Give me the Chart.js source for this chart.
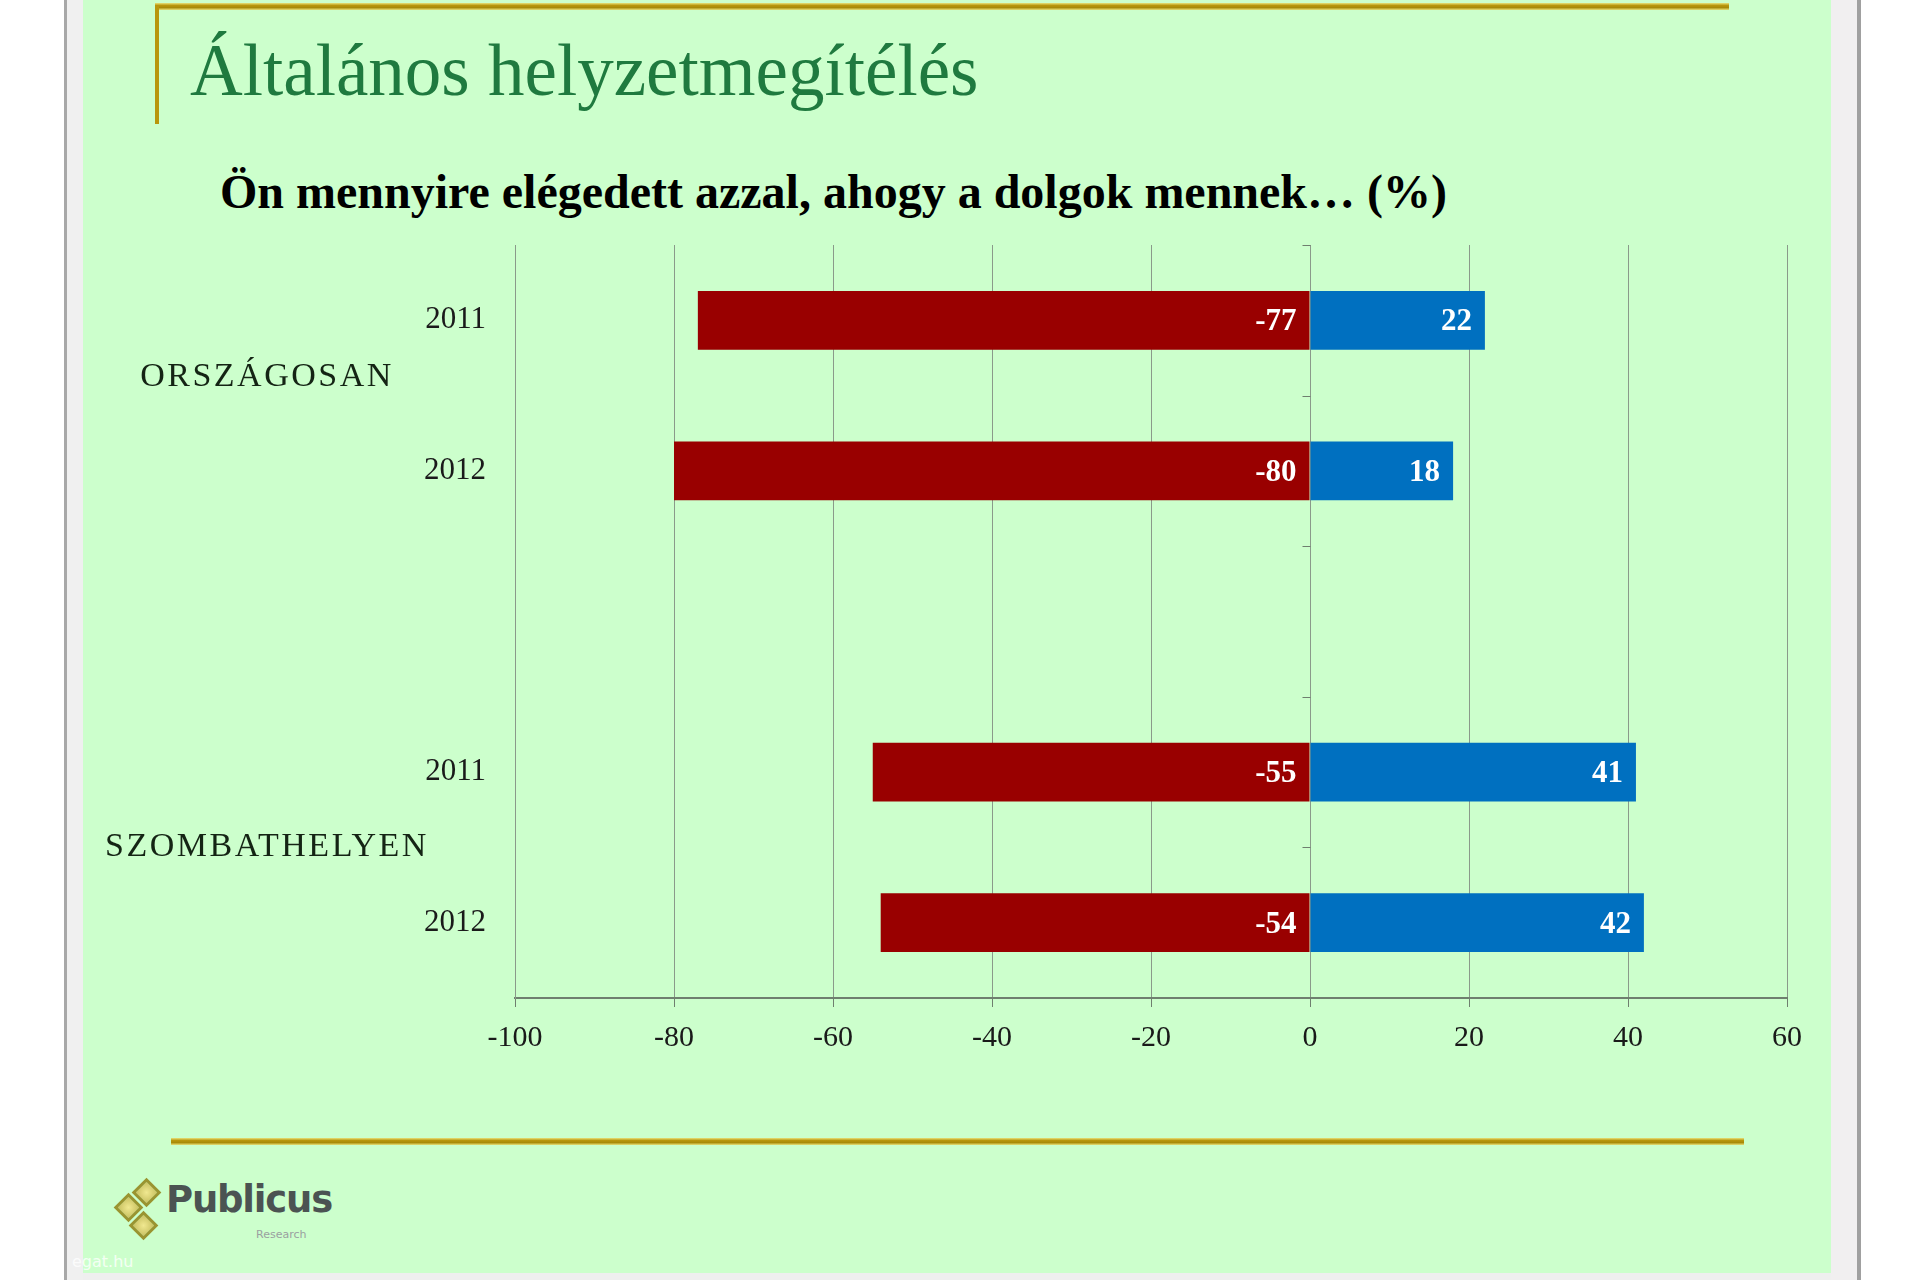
<!DOCTYPE html>
<html><head><meta charset="utf-8">
<script src="https://cdn.jsdelivr.net/npm/chart.js@4.4.0/dist/chart.umd.min.js"></script>
<style>
html,body{margin:0;padding:0;width:1920px;height:1280px;overflow:hidden;background:#fff;}
.abs{position:absolute;}
.gold{background:linear-gradient(#e8e27a,#b8960c 35%,#a88a08 65%,#e8e27a);}
.dia{position:absolute;width:15px;height:15px;transform:rotate(45deg);border:3px solid #9a9430;background:radial-gradient(#f0e890,#c8c060);}
</style></head><body>
<div class="abs" style="left:64px;top:0;width:3px;height:1280px;background:#a8a8a8"></div>
<div class="abs" style="left:67px;top:0;width:16px;height:1280px;background:#f0f0f0"></div>
<div class="abs" style="left:83px;top:0;width:1748px;height:1273px;background:#ccffcc"></div>
<div class="abs" style="left:83px;top:1273px;width:1748px;height:7px;background:#efefef"></div>
<div class="abs" style="left:1831px;top:0;width:26px;height:1280px;background:#f1eff0"></div>
<div class="abs" style="left:1857px;top:0;width:4px;height:1280px;background:#a0a0a0"></div>

<div class="abs gold" style="left:155px;top:3px;width:1574px;height:7px"></div>
<div class="abs" style="left:155px;top:6px;width:4px;height:118px;background:#b8960c"></div>
<div class="abs gold" style="left:171px;top:1138px;width:1573px;height:7px"></div>

<div class="abs" id="title" style="left:190px;top:34px;font:73px 'Liberation Serif',serif;line-height:73px;color:#1f7a3f;white-space:nowrap">Általános helyzetmegítélés</div>
<div class="abs" id="sub" style="left:220px;top:168px;font:bold 48px 'Liberation Serif',serif;line-height:48px;color:#000;white-space:nowrap">Ön mennyire elégedett azzal, ahogy a dolgok mennek… (%)</div>

<div class="dia" style="left:136px;top:1182px"></div>
<div class="dia" style="left:118px;top:1197px"></div>
<div class="dia" style="left:133px;top:1215px"></div>
<div class="abs" style="left:166px;top:1180px;font:bold 37px 'DejaVu Sans',sans-serif;line-height:40px;color:#4b5352;letter-spacing:-1.2px">Publicus</div>
<div class="abs" style="left:256px;top:1228px;font:11px 'DejaVu Sans',sans-serif;color:#9aa0a0">Research</div>
<div class="abs" style="left:72px;top:1252px;font:16px 'DejaVu Sans',sans-serif;color:rgba(255,255,255,0.8)">egat.hu</div>

<canvas id="c" width="1920" height="1280" style="position:absolute;left:0;top:0"></canvas>
<script>
const categories = ['2011', '2012', '', '2011', '2012'];
const dissatisfied = [-77, -80, null, -55, -54];
const satisfied = [22, 18, null, 41, 42];
const groupLabels = ['ORSZÁGOSAN', 'SZOMBATHELYEN'];
const groupAnchors = [0.38, 3.5];
const xMin = -100, xMax = 60, xStep = 20;

const serif = "'Liberation Serif', serif";

const overlay = {
  id: 'overlay',
  afterDatasetsDraw(chart) {
    const ctx = chart.ctx;
    ctx.save();
    ctx.font = "bold 31px " + serif;
    ctx.fillStyle = '#ffffff';
    ctx.textAlign = 'right';
    ctx.textBaseline = 'middle';
    chart.data.datasets.forEach((ds, i) => {
      chart.getDatasetMeta(i).data.forEach((el, j) => {
        const v = ds.data[j];
        if (v === null || v === undefined) return;
        const right = Math.max(el.x, el.base);
        ctx.fillText(String(v), right - 13, el.y + 2);
      });
    });
    ctx.restore();
  },
  afterDraw(chart) {
    const ctx = chart.ctx, xs = chart.scales.x, ys = chart.scales.y;
    const x0 = Math.round(xs.getPixelForValue(0)) + 0.5;
    ctx.save();
    ctx.strokeStyle = '#6f7f6f';
    ctx.lineWidth = 1;
    for (let k = 0; k <= categories.length; k++) {
      const yy = Math.round(ys.getPixelForValue(k - 0.5)) + 0.5;
      ctx.beginPath(); ctx.moveTo(x0 - 8, yy); ctx.lineTo(x0, yy); ctx.stroke();
    }
    ctx.font = "34px " + serif;
    ctx.fillStyle = '#142414';
    ctx.textAlign = 'center';
    ctx.textBaseline = 'middle';
    ctx.letterSpacing = '2.5px';
    groupLabels.forEach((g, i) => {
      ctx.fillText(g, 267, ys.getPixelForValue(groupAnchors[i]));
    });
    ctx.restore();
  }
};

new Chart(document.getElementById('c'), {
  type: 'bar',
  data: {
    labels: categories,
    datasets: [
      { label: 'elégedetlen', data: dissatisfied, backgroundColor: '#990000', borderWidth: 0 },
      { label: 'elégedett', data: satisfied, backgroundColor: '#0070c0', borderWidth: 0 }
    ]
  },
  options: {
    indexAxis: 'y',
    responsive: false,
    animation: false,
    barPercentage: 0.39,
    categoryPercentage: 1,
    layout: { padding: { top: 245, right: 133, bottom: 0, left: 0 } },
    plugins: { legend: { display: false }, tooltip: { enabled: false } },
    scales: {
      x: {
        stacked: true,
        min: xMin, max: xMax,
        ticks: { stepSize: xStep, color: '#1a1a1a', font: { family: serif, size: 30 }, padding: 13 },
        grid: { color: '#8a9a8a', lineWidth: 1, tickLength: 9, tickColor: '#6f7f6f' },
        border: { color: '#6f7f6f', width: 2 },
        afterFit(s) { s.height = 282; }
      },
      y: {
        stacked: true,
        ticks: { color: '#1a1a1a', font: { family: serif, size: 31 }, padding: 29 },
        grid: { display: false, drawTicks: false },
        border: { display: true, color: '#8a9a8a', width: 1 },
        afterFit(s) { s.width = 515; }
      }
    }
  },
  plugins: [overlay]
});
</script>
</body></html>
